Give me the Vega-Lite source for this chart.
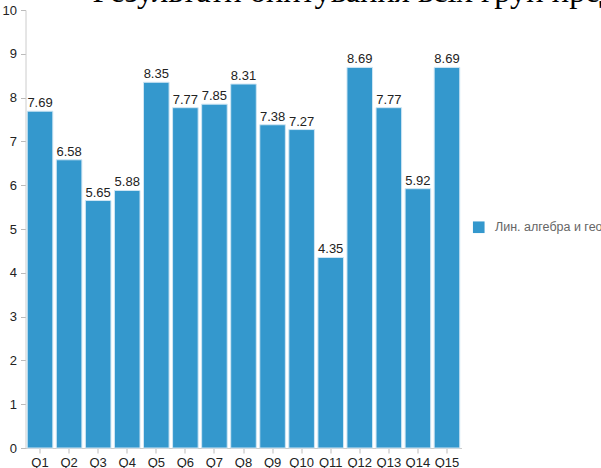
{
  "$schema": "https://vega.github.io/schema/vega-lite/v6.json",
  "autosize": "none",
  "width": 436,
  "height": 438,
  "padding": {"left": 25.5, "top": 10, "right": 139.5, "bottom": 20},
  "background": "white",
  "config": {"view": {"stroke": null}},
  "title": {
    "text": "Результати опитування всіх груп предметів",
    "anchor": "start",
    "frame": "group",
    "orient": "top",
    "dx": 67,
    "dy": 35,
    "offset": 5,
    "baseline": "alphabetic",
    "font": "Liberation Serif",
    "fontSize": 32.5,
    "fontWeight": "normal",
    "color": "#000000"
  },
  "data": {
    "values": [
      {"q": "Q1", "score": 7.69, "subject": "Лин. алгебра и геометрия"},
      {"q": "Q2", "score": 6.58, "subject": "Лин. алгебра и геометрия"},
      {"q": "Q3", "score": 5.65, "subject": "Лин. алгебра и геометрия"},
      {"q": "Q4", "score": 5.88, "subject": "Лин. алгебра и геометрия"},
      {"q": "Q5", "score": 8.35, "subject": "Лин. алгебра и геометрия"},
      {"q": "Q6", "score": 7.77, "subject": "Лин. алгебра и геометрия"},
      {"q": "Q7", "score": 7.85, "subject": "Лин. алгебра и геометрия"},
      {"q": "Q8", "score": 8.31, "subject": "Лин. алгебра и геометрия"},
      {"q": "Q9", "score": 7.38, "subject": "Лин. алгебра и геометрия"},
      {"q": "Q10", "score": 7.27, "subject": "Лин. алгебра и геометрия"},
      {"q": "Q11", "score": 4.35, "subject": "Лин. алгебра и геометрия"},
      {"q": "Q12", "score": 8.69, "subject": "Лин. алгебра и геометрия"},
      {"q": "Q13", "score": 7.77, "subject": "Лин. алгебра и геометрия"},
      {"q": "Q14", "score": 5.92, "subject": "Лин. алгебра и геометрия"},
      {"q": "Q15", "score": 8.69, "subject": "Лин. алгебра и геометрия"}
    ]
  },
  "encoding": {
    "x": {
      "field": "q",
      "type": "ordinal",
      "sort": null,
      "scale": {"paddingInner": 0.12, "paddingOuter": 0.06},
      "axis": {
        "title": null,
        "labelAngle": 0,
        "labelFont": "Liberation Sans",
        "labelFontSize": 13,
        "labelColor": "#222222",
        "labelPadding": 3,
        "tickColor": "#bbbbbb",
        "tickSize": 5,
        "domainColor": "#cccccc"
      }
    },
    "y": {
      "field": "score",
      "type": "quantitative",
      "scale": {"domain": [0, 10], "nice": false},
      "axis": {
        "title": null,
        "values": [0, 1, 2, 3, 4, 5, 6, 7, 8, 9, 10],
        "grid": false,
        "labelFont": "Liberation Sans",
        "labelFontSize": 13,
        "labelColor": "#222222",
        "labelPadding": 4,
        "tickColor": "#bbbbbb",
        "tickSize": 5,
        "domainColor": "#cccccc"
      }
    }
  },
  "layer": [
    {
      "mark": {"type": "bar", "stroke": "#cfe6f4", "strokeWidth": 1},
      "encoding": {
        "color": {
          "field": "subject",
          "type": "nominal",
          "scale": {"range": ["#3498cd"]},
          "legend": {
            "title": null,
            "orient": "none",
            "legendX": 447,
            "legendY": 211,
            "symbolType": "square",
            "symbolSize": 135,
            "symbolStrokeWidth": 0,
            "labelFont": "Liberation Sans",
            "labelFontSize": 12.5,
            "labelColor": "#666666",
            "labelLimit": 300,
            "labelOffset": 10
          }
        }
      }
    },
    {
      "mark": {
        "type": "text",
        "baseline": "bottom",
        "dy": -1,
        "font": "Liberation Sans",
        "fontSize": 13,
        "color": "#222222"
      },
      "encoding": {
        "text": {"field": "score", "type": "quantitative", "format": ".2f"}
      }
    }
  ]
}
